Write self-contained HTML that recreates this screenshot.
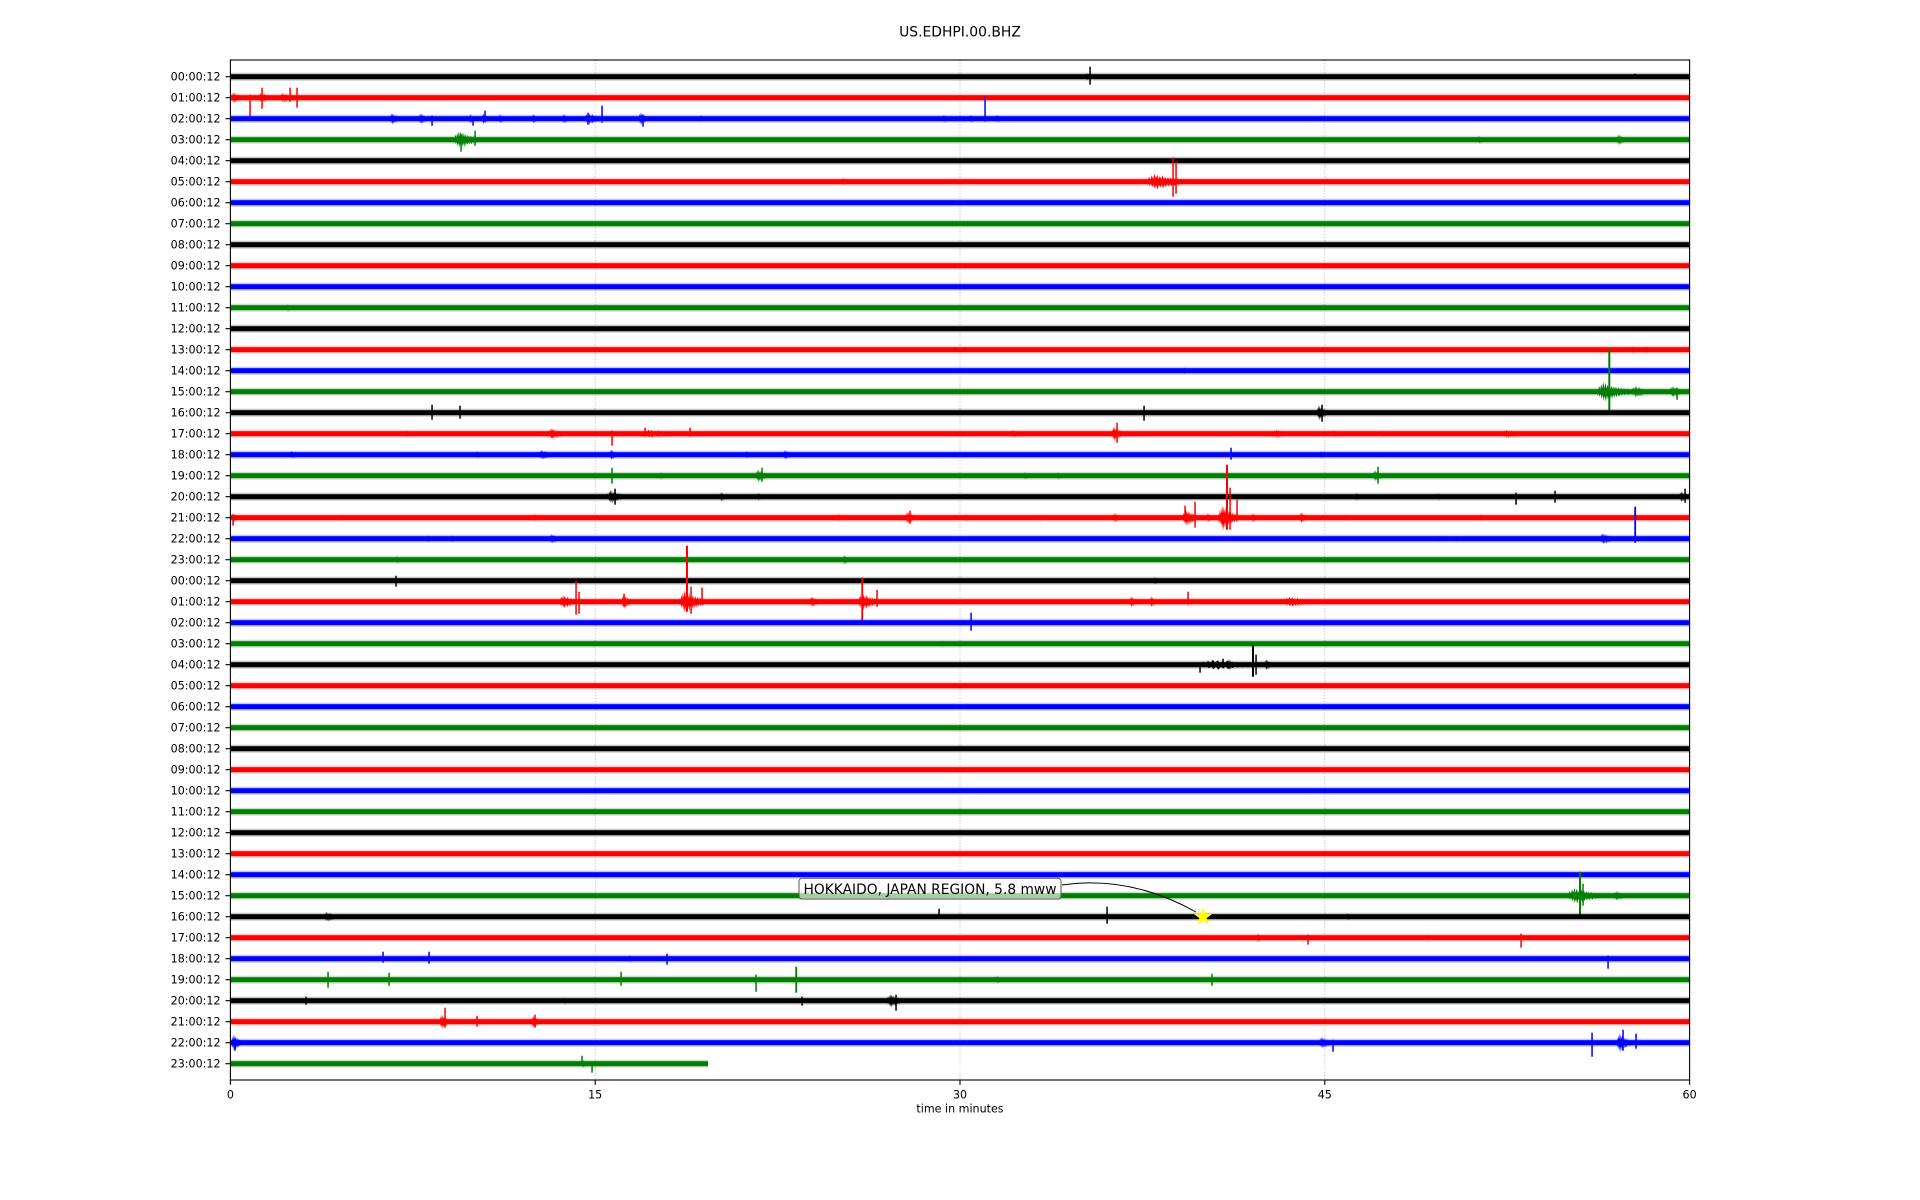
<!DOCTYPE html>
<html><head><meta charset="utf-8"><style>html,body{margin:0;padding:0;background:#fff}svg{display:block}text{font-family:"DejaVu Sans","Liberation Sans",sans-serif;fill:#000}</style></head><body>
<svg width="1920" height="1200" viewBox="0 0 1920 1200" xmlns="http://www.w3.org/2000/svg">
<defs>
<g id="band"><rect x="230.4" y="-4" width="1459.2" height="8" opacity="0.22"/><rect x="230.4" y="-2.5" width="1459.2" height="5"/></g>
<polygon id="B" points="0,0 0.3,-0.3 0.6,-0.1 0.9,-0.6 1.2,-0.2 1.5,-0.8 1.8,-0.3 2.1,-1 2.4,-0.35 2.7,-0.9 3,-0.3 3.3,-0.7 3.6,-0.3 3.9,-0.8 4.2,-0.25 4.5,-0.6 4.8,-0.2 5.1,-0.55 5.4,-0.2 5.7,-0.5 6,-0.15 6.4,-0.45 6.8,-0.15 7.2,-0.4 7.6,-0.1 8,-0.35 8.5,-0.1 9,-0.3 9.5,-0.1 10,0 9.7,0.15 9.2,0.3 8.7,0.1 8.2,0.35 7.8,0.12 7.4,0.4 7,0.15 6.6,0.5 6.2,0.2 5.8,0.55 5.5,0.2 5.2,0.6 4.9,0.25 4.6,0.7 4.3,0.3 4,0.85 3.7,0.3 3.4,0.75 3.1,0.35 2.8,1 2.5,0.4 2.2,0.9 1.9,0.3 1.6,0.7 1.3,0.2 1,0.5 0.7,0.15 0.4,0.35 0.15,0.1"/>
</defs>
<rect width="1920" height="1200" fill="#fff"/>
<text x="960" y="36.5" font-size="13.9" text-anchor="middle">US.EDHPI.00.BHZ</text>
<g stroke="#b0b0b0" stroke-width="0.8" stroke-dasharray="1.1,1.8">
<line x1="595.2" y1="60" x2="595.2" y2="1080"/><line x1="960" y1="60" x2="960" y2="1080"/><line x1="1324.8" y1="60" x2="1324.8" y2="1080"/>
</g>
<g transform="translate(0,76.7)" fill="#000"><use href="#band"/><rect x="1089.3" y="-10" width="1.5" height="18"/><use href="#B" transform="translate(1084,0) scale(1.2,4)"/><rect x="1634.3" y="-3" width="1.5" height="5"/></g>
<g transform="translate(0,97.7)" fill="#f00"><use href="#band"/><use href="#B" transform="translate(231,0) scale(1.2,6)"/><rect x="249.3" y="-3" width="1.5" height="22"/><rect x="261.3" y="-10" width="1.5" height="21"/><use href="#B" transform="translate(256,0) scale(2.2,5)"/><use href="#B" transform="translate(278,0) scale(2.2,5)"/><rect x="289.3" y="-10" width="1.5" height="14"/><rect x="296.3" y="-10" width="1.5" height="20"/></g>
<g transform="translate(0,118.7)" fill="#00f"><use href="#band"/><use href="#B" transform="translate(389,0) scale(1.4,6)"/><use href="#B" transform="translate(418,0) scale(1.2,6)"/><rect x="431.3" y="-3" width="1.5" height="10"/><use href="#B" transform="translate(468,0) scale(1,5)"/><rect x="472.3" y="-2" width="1.5" height="9"/><use href="#B" transform="translate(481,0) scale(1,6)"/><rect x="484.3" y="-8" width="1.5" height="11"/><use href="#B" transform="translate(498,0) scale(0.9,5)"/><use href="#B" transform="translate(531,0) scale(1,5)"/><use href="#B" transform="translate(561,0) scale(1.2,5)"/><use href="#B" transform="translate(583,0) scale(2.4,6)"/><rect x="587.3" y="-6" width="1.5" height="12"/><rect x="601.3" y="-13" width="1.5" height="17"/><use href="#B" transform="translate(638,0) scale(1.2,7)"/><rect x="642.3" y="-4" width="1.5" height="12"/><use href="#B" transform="translate(699,0) scale(0.7,4)"/><use href="#B" transform="translate(941,0) scale(1.2,4)"/><use href="#B" transform="translate(968,0) scale(1.2,4)"/><rect x="984.3" y="-22" width="1.5" height="25"/><use href="#B" transform="translate(993,0) scale(1.6,4)"/></g>
<g transform="translate(0,139.7)" fill="#008000"><use href="#band"/><use href="#B" transform="translate(453,0) scale(2.8,9)"/><rect x="460.3" y="-6" width="1.5" height="18"/><rect x="474.3" y="-9" width="1.5" height="15"/><use href="#B" transform="translate(1476,0) scale(1.4,4)"/><use href="#B" transform="translate(1616,0) scale(1.2,6)"/></g>
<g transform="translate(0,160.7)" fill="#000"><use href="#band"/></g>
<g transform="translate(0,181.7)" fill="#f00"><use href="#band"/><use href="#B" transform="translate(1145,0) scale(4.5,8)"/><rect x="1172.3" y="-24" width="1.5" height="39"/><rect x="1175.3" y="-20" width="1.5" height="32"/><use href="#B" transform="translate(841,0) scale(1,4)"/></g>
<g transform="translate(0,202.7)" fill="#00f"><use href="#band"/></g>
<g transform="translate(0,223.7)" fill="#008000"><use href="#band"/></g>
<g transform="translate(0,244.7)" fill="#000"><use href="#band"/></g>
<g transform="translate(0,265.7)" fill="#f00"><use href="#band"/></g>
<g transform="translate(0,286.7)" fill="#00f"><use href="#band"/></g>
<g transform="translate(0,307.7)" fill="#008000"><use href="#band"/><use href="#B" transform="translate(286,0) scale(0.8,4)"/></g>
<g transform="translate(0,328.7)" fill="#000"><use href="#band"/></g>
<g transform="translate(0,349.7)" fill="#f00"><use href="#band"/><use href="#B" transform="translate(1630,0) scale(1.2,3.5)"/><use href="#B" transform="translate(1644,0) scale(1,3.5)"/></g>
<g transform="translate(0,370.7)" fill="#00f"><use href="#band"/><use href="#B" transform="translate(1182,0) scale(1,3.5)"/></g>
<g transform="translate(0,391.7)" fill="#008000"><use href="#band"/><rect x="1608.3" y="-43" width="2" height="62"/><use href="#B" transform="translate(1596,0) scale(3.5,10)"/><use href="#B" transform="translate(1630,0) scale(2.5,6)"/><use href="#B" transform="translate(1668,0) scale(2,6)"/><rect x="1676.3" y="-4" width="1.5" height="12"/></g>
<g transform="translate(0,412.7)" fill="#000"><use href="#band"/><rect x="431.3" y="-8" width="1.5" height="15"/><rect x="459.3" y="-7" width="1.5" height="13"/><rect x="1143.3" y="-7" width="1.5" height="15"/><use href="#B" transform="translate(1316,0) scale(1.4,8)"/><rect x="1321.3" y="-8" width="1.5" height="17"/></g>
<g transform="translate(0,433.7)" fill="#f00"><use href="#band"/><use href="#B" transform="translate(405,0) scale(0.8,4)"/><use href="#B" transform="translate(547,0) scale(2,6)"/><rect x="611.3" y="-3" width="1.5" height="15"/><use href="#B" transform="translate(637,0) scale(5.5,4)"/><rect x="644.3" y="-6" width="1.5" height="9"/><rect x="689.3" y="-6" width="1.5" height="9"/><use href="#B" transform="translate(1004,0) scale(4,3.5)"/><use href="#B" transform="translate(1111,0) scale(1.4,8)"/><rect x="1116.3" y="-11" width="1.5" height="20"/><use href="#B" transform="translate(1270,0) scale(3,4)"/><use href="#B" transform="translate(1332,0) scale(0.8,4)"/><use href="#B" transform="translate(1381,0) scale(0.8,3.5)"/><use href="#B" transform="translate(1500,0) scale(3,4)"/></g>
<g transform="translate(0,454.7)" fill="#00f"><use href="#band"/><use href="#B" transform="translate(288,0) scale(1.8,4)"/><use href="#B" transform="translate(475,0) scale(0.8,4)"/><use href="#B" transform="translate(537,0) scale(2.2,5)"/><use href="#B" transform="translate(609,0) scale(1,6)"/><use href="#B" transform="translate(744,0) scale(1,4)"/><use href="#B" transform="translate(782,0) scale(1.4,5)"/><rect x="1230.3" y="-7" width="1.5" height="12"/><use href="#B" transform="translate(1319,0) scale(0.8,4)"/></g>
<g transform="translate(0,475.7)" fill="#008000"><use href="#band"/><rect x="611.3" y="-8" width="1.5" height="16"/><use href="#B" transform="translate(659,0) scale(0.8,4)"/><use href="#B" transform="translate(755,0) scale(1.4,7)"/><rect x="761.3" y="-8" width="1.5" height="14"/><use href="#B" transform="translate(1023,0) scale(0.8,4)"/><use href="#B" transform="translate(1056,0) scale(0.8,4)"/><rect x="1377.3" y="-9" width="1.5" height="17"/><use href="#B" transform="translate(1372,0) scale(1.4,6)"/></g>
<g transform="translate(0,496.7)" fill="#000"><use href="#band"/><use href="#B" transform="translate(606,0) scale(2.2,7)"/><rect x="614.3" y="-8" width="1.5" height="16"/><use href="#B" transform="translate(719,0) scale(1,5)"/><use href="#B" transform="translate(756,0) scale(1,4)"/><use href="#B" transform="translate(1354,0) scale(1,4)"/><use href="#B" transform="translate(1436,0) scale(1,3.5)"/><rect x="1515.3" y="-4" width="1.5" height="12"/><rect x="1554.3" y="-6" width="1.5" height="12"/><rect x="1684.3" y="-8" width="1.5" height="14"/><use href="#B" transform="translate(1679,0) scale(1,6)"/></g>
<g transform="translate(0,517.7)" fill="#f00"><use href="#band"/><use href="#B" transform="translate(231,0) scale(1,5)"/><rect x="232.3" y="-3" width="1.5" height="11"/><use href="#B" transform="translate(340,0) scale(0.8,3.5)"/><use href="#B" transform="translate(532,0) scale(1,4)"/><use href="#B" transform="translate(836,0) scale(1,4)"/><use href="#B" transform="translate(905,0) scale(1.2,7)"/><rect x="909.3" y="-7" width="1.5" height="13"/><use href="#B" transform="translate(964,0) scale(0.8,4)"/><use href="#B" transform="translate(1038,0) scale(0.8,3.5)"/><use href="#B" transform="translate(1112,0) scale(1.2,5)"/><use href="#B" transform="translate(1182,0) scale(1.8,9)"/><rect x="1184.3" y="-12" width="1.5" height="16"/><rect x="1194.3" y="-16" width="1.5" height="26"/><use href="#B" transform="translate(1206,0) scale(0.8,5)"/><use href="#B" transform="translate(1218,0) scale(2,13)"/><rect x="1226" y="-53" width="2" height="65"/><rect x="1229.3" y="-30" width="1.5" height="42"/><rect x="1236.3" y="-18" width="1.5" height="21"/><use href="#B" transform="translate(1251,0) scale(0.8,5)"/><use href="#B" transform="translate(1299,0) scale(1,6)"/><use href="#B" transform="translate(1344,0) scale(0.8,3.5)"/><use href="#B" transform="translate(1479,0) scale(0.8,3.5)"/></g>
<g transform="translate(0,538.7)" fill="#00f"><use href="#band"/><use href="#B" transform="translate(426,0) scale(0.8,4)"/><use href="#B" transform="translate(450,0) scale(0.8,4)"/><use href="#B" transform="translate(548,0) scale(1.6,5)"/><use href="#B" transform="translate(1436,0) scale(0.8,3.5)"/><use href="#B" transform="translate(1454,0) scale(0.8,3.5)"/><use href="#B" transform="translate(1599,0) scale(1.8,6)"/><rect x="1634.3" y="-32" width="1.8" height="36"/></g>
<g transform="translate(0,559.7)" fill="#008000"><use href="#band"/><use href="#B" transform="translate(395,0) scale(0.8,4)"/><use href="#B" transform="translate(842,0) scale(1,5)"/></g>
<g transform="translate(0,580.7)" fill="#000"><use href="#band"/><rect x="395.3" y="-5" width="1.5" height="11"/><use href="#B" transform="translate(1153,0) scale(0.8,4)"/></g>
<g transform="translate(0,601.7)" fill="#f00"><use href="#band"/><use href="#B" transform="translate(558,0) scale(2.4,7)"/><rect x="575.3" y="-21" width="1.5" height="34"/><rect x="578.3" y="-10" width="1.5" height="22"/><use href="#B" transform="translate(621,0) scale(1.2,8)"/><rect x="623.3" y="-8" width="1.5" height="13"/><use href="#B" transform="translate(679,0) scale(2.6,12)"/><rect x="686" y="-56" width="2" height="66"/><rect x="690.3" y="-15" width="1.5" height="27"/><rect x="701.3" y="-14" width="1.5" height="17"/><use href="#B" transform="translate(809,0) scale(1.2,6)"/><use href="#B" transform="translate(857,0) scale(2.4,9)"/><rect x="861.3" y="-24" width="1.8" height="44"/><rect x="876.3" y="-12" width="1.5" height="17"/><use href="#B" transform="translate(1129,0) scale(1,6)"/><use href="#B" transform="translate(1149,0) scale(1,6)"/><rect x="1187.3" y="-10" width="1.5" height="13"/><use href="#B" transform="translate(1280,0) scale(4.5,5)"/></g>
<g transform="translate(0,622.7)" fill="#00f"><use href="#band"/><rect x="970.3" y="-10" width="1.5" height="18"/></g>
<g transform="translate(0,643.7)" fill="#008000"><use href="#band"/><use href="#B" transform="translate(940,0) scale(0.8,3.5)"/></g>
<g transform="translate(0,664.7)" fill="#000"><use href="#band"/><rect x="1199.3" y="-2" width="1.5" height="10"/><use href="#B" transform="translate(1196,0) scale(8,5)"/><rect x="1222.3" y="-6" width="1.5" height="8"/><use href="#B" transform="translate(1226,0) scale(1.2,6)"/><rect x="1252" y="-20" width="2" height="32"/><rect x="1255.3" y="-10" width="1.5" height="20"/><use href="#B" transform="translate(1264,0) scale(1,6)"/></g>
<g transform="translate(0,685.7)" fill="#f00"><use href="#band"/></g>
<g transform="translate(0,706.7)" fill="#00f"><use href="#band"/></g>
<g transform="translate(0,727.7)" fill="#008000"><use href="#band"/></g>
<g transform="translate(0,748.7)" fill="#000"><use href="#band"/></g>
<g transform="translate(0,769.7)" fill="#f00"><use href="#band"/></g>
<g transform="translate(0,790.7)" fill="#00f"><use href="#band"/></g>
<g transform="translate(0,811.7)" fill="#008000"><use href="#band"/></g>
<g transform="translate(0,832.7)" fill="#000"><use href="#band"/></g>
<g transform="translate(0,853.7)" fill="#f00"><use href="#band"/></g>
<g transform="translate(0,874.7)" fill="#00f"><use href="#band"/></g>
<g transform="translate(0,895.7)" fill="#008000"><use href="#band"/><use href="#B" transform="translate(1566,0) scale(4,8)"/><rect x="1579" y="-24" width="2" height="44"/><rect x="1582.3" y="-12" width="1.5" height="22"/><use href="#B" transform="translate(1612,0) scale(2,5)"/></g>
<g transform="translate(0,916.7)" fill="#000"><use href="#band"/><use href="#B" transform="translate(322,0) scale(2.2,5)"/><rect x="938.3" y="-8" width="1.5" height="10"/><rect x="1106.3" y="-10" width="1.5" height="17"/><use href="#B" transform="translate(1346,0) scale(0.8,4)"/></g>
<g transform="translate(0,937.7)" fill="#f00"><use href="#band"/><use href="#B" transform="translate(1256,0) scale(0.8,5)"/><rect x="1307.3" y="-3" width="1.5" height="10"/><rect x="1520.3" y="-4" width="1.5" height="14"/><use href="#B" transform="translate(1426,0) scale(0.8,3.5)"/></g>
<g transform="translate(0,958.7)" fill="#00f"><use href="#band"/><rect x="382.3" y="-7" width="1.5" height="11"/><rect x="428.3" y="-7" width="1.5" height="12"/><use href="#B" transform="translate(628,0) scale(0.8,4)"/><rect x="666.3" y="-5" width="1.5" height="11"/><rect x="1607.3" y="-3" width="1.5" height="13"/></g>
<g transform="translate(0,979.7)" fill="#008000"><use href="#band"/><rect x="327.3" y="-8" width="1.5" height="16"/><rect x="388.3" y="-7" width="1.5" height="13"/><rect x="620.3" y="-8" width="1.5" height="14"/><rect x="755.3" y="-5" width="1.5" height="17"/><rect x="795.3" y="-13" width="1.8" height="26"/><use href="#B" transform="translate(995,0) scale(1,4)"/><rect x="1211.3" y="-6" width="1.5" height="12"/></g>
<g transform="translate(0,1000.7)" fill="#000"><use href="#band"/><rect x="305.3" y="-4" width="1.5" height="8"/><use href="#B" transform="translate(563,0) scale(0.8,3.5)"/><rect x="801.3" y="-4" width="1.5" height="9"/><use href="#B" transform="translate(886,0) scale(2,7)"/><rect x="895.3" y="-6" width="1.5" height="16"/></g>
<g transform="translate(0,1021.7)" fill="#f00"><use href="#band"/><use href="#B" transform="translate(439,0) scale(1.2,8)"/><rect x="444.3" y="-14" width="1.5" height="20"/><rect x="476.3" y="-6" width="1.5" height="11"/><use href="#B" transform="translate(531,0) scale(1,7)"/><rect x="534.3" y="-7" width="1.5" height="13"/></g>
<g transform="translate(0,1042.7)" fill="#00f"><use href="#band"/><use href="#B" transform="translate(231,0) scale(1.2,9)"/><rect x="234.3" y="-4" width="1.5" height="12"/><use href="#B" transform="translate(1318,0) scale(1.8,6)"/><rect x="1332.3" y="-3" width="1.5" height="12"/><rect x="1591.3" y="-10" width="1.5" height="24"/><use href="#B" transform="translate(1616,0) scale(1.6,10)"/><rect x="1622.3" y="-13" width="1.5" height="21"/><rect x="1635.3" y="-9" width="1.5" height="15"/></g>
<g transform="translate(0,1063.7)" fill="#008000"><rect x="230.4" y="-4" width="477.6" height="8" opacity="0.22"/><rect x="230.4" y="-2.5" width="477.6" height="5"/><use href="#B" transform="translate(578,0) scale(2,4)"/><rect x="581.3" y="-8" width="1.5" height="10"/><rect x="591.3" y="-2" width="1.5" height="11"/></g>
<path d="M1062,885 Q1130,875 1196,912" fill="none" stroke="#000" stroke-width="1"/>
<rect x="799" y="878.3" width="262" height="20.7" rx="3" ry="3" fill="#fff" fill-opacity="0.63" stroke="#555" stroke-width="1"/>
<text x="803.5" y="893.8" font-size="13.9" textLength="253" lengthAdjust="spacingAndGlyphs">HOKKAIDO, JAPAN REGION, 5.8 mww</text>
<polygon transform="translate(1203,917)" fill="#ff0" stroke="#ff0" stroke-width="0.5" points="0,-9 2.06,-2.83 8.56,-2.78 3.33,1.08 5.29,7.28 0,3.5 -5.29,7.28 -3.33,1.08 -8.56,-2.78 -2.06,-2.83"/>
<rect x="230.4" y="60" width="1459.2" height="1020" fill="none" stroke="#000" stroke-width="1.1"/>
<g stroke="#000" stroke-width="1.1">
<path d="M225.5,76.7h4.9M225.5,97.7h4.9M225.5,118.7h4.9M225.5,139.7h4.9M225.5,160.7h4.9M225.5,181.7h4.9M225.5,202.7h4.9M225.5,223.7h4.9M225.5,244.7h4.9M225.5,265.7h4.9M225.5,286.7h4.9M225.5,307.7h4.9M225.5,328.7h4.9M225.5,349.7h4.9M225.5,370.7h4.9M225.5,391.7h4.9M225.5,412.7h4.9M225.5,433.7h4.9M225.5,454.7h4.9M225.5,475.7h4.9M225.5,496.7h4.9M225.5,517.7h4.9M225.5,538.7h4.9M225.5,559.7h4.9M225.5,580.7h4.9M225.5,601.7h4.9M225.5,622.7h4.9M225.5,643.7h4.9M225.5,664.7h4.9M225.5,685.7h4.9M225.5,706.7h4.9M225.5,727.7h4.9M225.5,748.7h4.9M225.5,769.7h4.9M225.5,790.7h4.9M225.5,811.7h4.9M225.5,832.7h4.9M225.5,853.7h4.9M225.5,874.7h4.9M225.5,895.7h4.9M225.5,916.7h4.9M225.5,937.7h4.9M225.5,958.7h4.9M225.5,979.7h4.9M225.5,1000.7h4.9M225.5,1021.7h4.9M225.5,1042.7h4.9M225.5,1063.7h4.9"/>
<path d="M230.4,1080v4.9M595.2,1080v4.9M960,1080v4.9M1324.8,1080v4.9M1689.6,1080v4.9"/>
</g>
<g font-size="11.1" text-anchor="end">
<text x="220.5" y="80.7">00:00:12</text><text x="220.5" y="101.7">01:00:12</text><text x="220.5" y="122.7">02:00:12</text><text x="220.5" y="143.7">03:00:12</text><text x="220.5" y="164.7">04:00:12</text><text x="220.5" y="185.7">05:00:12</text><text x="220.5" y="206.7">06:00:12</text><text x="220.5" y="227.7">07:00:12</text><text x="220.5" y="248.7">08:00:12</text><text x="220.5" y="269.7">09:00:12</text><text x="220.5" y="290.7">10:00:12</text><text x="220.5" y="311.7">11:00:12</text><text x="220.5" y="332.7">12:00:12</text><text x="220.5" y="353.7">13:00:12</text><text x="220.5" y="374.7">14:00:12</text><text x="220.5" y="395.7">15:00:12</text><text x="220.5" y="416.7">16:00:12</text><text x="220.5" y="437.7">17:00:12</text><text x="220.5" y="458.7">18:00:12</text><text x="220.5" y="479.7">19:00:12</text><text x="220.5" y="500.7">20:00:12</text><text x="220.5" y="521.7">21:00:12</text><text x="220.5" y="542.7">22:00:12</text><text x="220.5" y="563.7">23:00:12</text>
<text x="220.5" y="584.7">00:00:12</text><text x="220.5" y="605.7">01:00:12</text><text x="220.5" y="626.7">02:00:12</text><text x="220.5" y="647.7">03:00:12</text><text x="220.5" y="668.7">04:00:12</text><text x="220.5" y="689.7">05:00:12</text><text x="220.5" y="710.7">06:00:12</text><text x="220.5" y="731.7">07:00:12</text><text x="220.5" y="752.7">08:00:12</text><text x="220.5" y="773.7">09:00:12</text><text x="220.5" y="794.7">10:00:12</text><text x="220.5" y="815.7">11:00:12</text><text x="220.5" y="836.7">12:00:12</text><text x="220.5" y="857.7">13:00:12</text><text x="220.5" y="878.7">14:00:12</text><text x="220.5" y="899.7">15:00:12</text><text x="220.5" y="920.7">16:00:12</text><text x="220.5" y="941.7">17:00:12</text><text x="220.5" y="962.7">18:00:12</text><text x="220.5" y="983.7">19:00:12</text><text x="220.5" y="1004.7">20:00:12</text><text x="220.5" y="1025.7">21:00:12</text><text x="220.5" y="1046.7">22:00:12</text><text x="220.5" y="1067.7">23:00:12</text>
</g>
<g font-size="11.1" text-anchor="middle">
<text x="230.4" y="1098.5">0</text><text x="595.2" y="1098.5">15</text><text x="960" y="1098.5">30</text><text x="1324.8" y="1098.5">45</text><text x="1689.6" y="1098.5">60</text>
<text x="960" y="1112.5">time in minutes</text>
</g>
</svg>
</body></html>
